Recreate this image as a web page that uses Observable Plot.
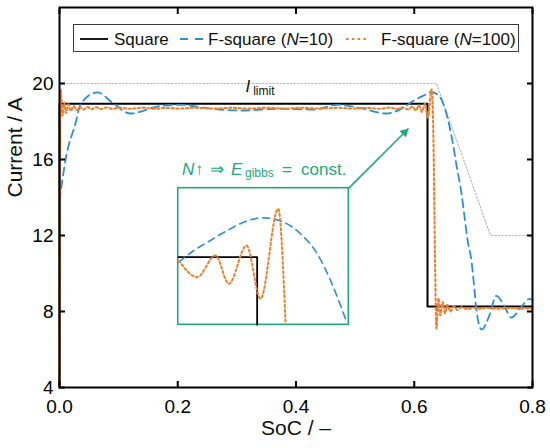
<!DOCTYPE html>
<html>
<head>
<meta charset="utf-8">
<script src="https://cdn.jsdelivr.net/npm/d3@7"></script>
<script src="https://cdn.jsdelivr.net/npm/@observablehq/plot@0.6"></script>
<style>
  html, body { margin: 0; padding: 0; background: #fff; }
  body { font-family: "Liberation Sans", Arial, sans-serif; }
  #wrap { position: relative; width: 550px; height: 448px; overflow: hidden; background: #fff; }
  #legend { position: absolute; left: 73px; top: 24px; width: 446px; height: 28px; box-sizing: border-box;
            border: 1px solid #3a3a3a; background: #fff; }
  .lg { position: absolute; top: 6px; font-size: 17px; line-height: 17px; color: #111; white-space: nowrap; }
  .ann { position: absolute; color: #22a97c; white-space: nowrap; line-height: 1; }
</style>
</head>
<body>
<div id="wrap"></div>
<script>
// ---- tick values ----
const xTicks = [0, 0.2, 0.4, 0.6, 0.8];
const yTicks = [4, 8, 12, 16, 20];

// ---- series names ----
const seriesNames = ["Square", "F-square (N=10)", "F-square (N=100)"];

// ---- Square profile (SoC, current) ----
const squareSoC = [0, 0, 0.6224, 0.6224, 0.8];
const squareI   = [4, 18.93, 18.93, 8.26, 8.26];

// ---- Current limit ----
const limitSoC = [0, 0.6376, 0.729, 0.8];
const limitI   = [20, 20, 12, 12];

// ---- F-square N=10 ----
const n10SoC = [0, 0.01, 0.027, 0.036, 0.064, 0.091, 0.12, 0.167, 0.205, 0.25, 0.306, 0.374, 0.43, 0.47, 0.51, 0.553, 0.58, 0.599, 0.616, 0.629, 0.643, 0.657, 0.665, 0.672, 0.68, 0.685, 0.69, 0.697, 0.702, 0.705, 0.714, 0.726, 0.739, 0.752, 0.764, 0.78, 0.795, 0.8];
const n10I   = [13.8, 15.95, 17.9, 18.93, 19.53, 18.95, 18.42, 18.8, 18.88, 18.7, 18.58, 18.67, 18.63, 18.88, 18.7, 18.42, 18.7, 19.1, 19.37, 19.55, 19.3, 18.1, 16.9, 15.6, 14.2, 13.0, 11.8, 10.6, 9.1, 8.1, 7.05, 7.7, 8.82, 8.3, 7.68, 8.2, 8.66, 8.6];

// ---- F-square N=100 ----
const n100SoC = [0, 0.0005, 0.002, 0.005, 0.008, 0.011, 0.015, 0.019, 0.024, 0.029, 0.034, 0.04, 0.047, 0.054, 0.062, 0.07, 0.08, 0.09, 0.1, 0.12, 0.14, 0.16, 0.18, 0.2, 0.23, 0.26, 0.29, 0.32, 0.35, 0.38, 0.41, 0.44, 0.47, 0.5, 0.52, 0.54, 0.56, 0.57, 0.58, 0.59, 0.597, 0.603, 0.608, 0.613, 0.618, 0.623, 0.6295, 0.6325, 0.635, 0.6375, 0.641, 0.644, 0.648, 0.652, 0.656, 0.661, 0.667, 0.673, 0.68, 0.69, 0.70, 0.71, 0.72, 0.74, 0.76, 0.78, 0.8];
const n100I   = [4, 10, 19.65, 18.3, 19.0, 18.45, 18.9, 18.55, 18.82, 18.6, 18.78, 18.62, 18.76, 18.64, 18.75, 18.65, 18.74, 18.66, 18.73, 18.67, 18.73, 18.67, 18.72, 18.68, 18.72, 18.68, 18.72, 18.68, 18.72, 18.68, 18.72, 18.68, 18.72, 18.68, 18.72, 18.67, 18.73, 18.66, 18.74, 18.63, 18.78, 18.58, 18.85, 18.5, 18.95, 18.2, 19.7, 17.0, 11.0, 7.1, 8.7, 7.8, 8.5, 7.9, 8.35, 8.0, 8.28, 8.08, 8.22, 8.12, 8.2, 8.14, 8.19, 8.15, 8.18, 8.15, 8.17];

// ---- Inset (zoom of the jump), drawn in chart units ----
const insetBoxSoC = [0.2008, 0.4893];
const insetBoxI   = [7.30, 14.49];
const insetSquareSoC = [0.2013, 0.3343, 0.3343];
const insetSquareI   = [10.86, 10.86, 7.30];
const insetN10SoC = [0.2018, 0.2271, 0.2554, 0.2836, 0.3117, 0.3455, 0.3794, 0.4076, 0.4359, 0.4584, 0.4837];
const insetN10I   = [10.595, 11.21, 11.74, 12.26, 12.70, 12.93, 12.70, 12.09, 11.04, 9.63, 7.62];
const insetN100SoC = [0.2018, 0.2329, 0.2638, 0.2864, 0.3163, 0.3400, 0.3699, 0.3822];
const insetN100I   = [10.68, 9.81, 10.95, 9.46, 11.47, 8.67, 13.41, 7.44];

// ---- Arrow from inset to the jump ----
const arrowSoC = [0.4893, 0.5903];
const arrowI   = [14.49, 17.63];
const arrowHeadSoC = [0.5838];
const arrowHeadI   = [17.43];

// ---- colours ----
const cBlack = "#000000", cBlue = "#2e8fd5", cOrange = "#f08030", cGreen = "#22a97c", cLimit = "#b8b8b8";

const rows = (xs, ys) => xs.map((x, i) => ({x, y: ys[i]}));

const plot = Plot.plot({
  width: 550,
  height: 448,
  marginLeft: 59,
  marginRight: 18,
  marginTop: 7,
  marginBottom: 61,
  x: {domain: [0, 0.8]},
  y: {domain: [4, 24]},
  style: {fontFamily: '"Liberation Sans", Arial, sans-serif', background: "white", color: "black", overflow: "visible"},
  marks: [
    Plot.line(rows(limitSoC, limitI), {x: "x", y: "y", stroke: cLimit, strokeWidth: 1.2, strokeDasharray: "1.5,2"}),
    Plot.line(rows(squareSoC, squareI), {x: "x", y: "y", stroke: cBlack, strokeWidth: 2}),
    Plot.line(rows(n10SoC, n10I), {x: "x", y: "y", stroke: cBlue, strokeWidth: 1.8, strokeDasharray: "8,5", curve: "monotone-x"}),
    Plot.line(rows(n100SoC, n100I), {x: "x", y: "y", stroke: cOrange, strokeWidth: 2.1, strokeDasharray: "2.2,2.6", curve: "monotone-x"}),
    // inset
    Plot.rect([{x1: insetBoxSoC[0], x2: insetBoxSoC[1], y1: insetBoxI[0], y2: insetBoxI[1]}], {x1: "x1", x2: "x2", y1: "y1", y2: "y2", stroke: cGreen, strokeWidth: 1.6, fill: "none"}),
    Plot.line(rows(insetSquareSoC, insetSquareI), {x: "x", y: "y", stroke: cBlack, strokeWidth: 1.8}),
    Plot.line(rows(insetN10SoC, insetN10I), {x: "x", y: "y", stroke: cBlue, strokeWidth: 1.6, strokeDasharray: "7,5", curve: "monotone-x"}),
    Plot.line(rows(insetN100SoC, insetN100I), {x: "x", y: "y", stroke: cOrange, strokeWidth: 2, strokeDasharray: "2.2,2.6", curve: "monotone-x"}),
    Plot.link([{x1: arrowSoC[0], y1: arrowI[0], x2: arrowSoC[1], y2: arrowI[1]}], {x1: "x1", y1: "y1", x2: "x2", y2: "y2", stroke: cGreen, strokeWidth: 1.6}),
    Plot.dot(rows(arrowHeadSoC, arrowHeadI), {x: "x", y: "y", symbol: "triangle", r: 3.5, fill: cGreen, stroke: "none", rotate: 45}),
    // I_limit label
    Plot.text(["I"], {x: 0.3146, y: 19.83, text: d => d, fontSize: 17, fontStyle: "italic", textAnchor: "start", fill: "#111"}),
    Plot.text(["limit"], {x: 0.3275, y: 19.62, text: d => d, fontSize: 12, textAnchor: "start", fill: "#111"}),
    // frame and axes
    Plot.frame({stroke: "black", strokeWidth: 2}),
    Plot.axisX({anchor: "bottom", ticks: xTicks, tickSize: -6, tickPadding: 17.5, tickFormat: d => d.toFixed(1), fontSize: 19, label: null, strokeWidth: 2}),
    Plot.axisX({anchor: "top", ticks: xTicks, tickSize: -6, tickFormat: () => "", label: null, strokeWidth: 2}),
    Plot.axisY({anchor: "left", ticks: yTicks, tickSize: -6, tickPadding: 12, tickFormat: d => String(d), fontSize: 19, label: null, strokeWidth: 2}),
    Plot.axisY({anchor: "right", ticks: yTicks, tickSize: -6, tickFormat: () => "", label: null, strokeWidth: 2}),
    Plot.text(["SoC / –"], {frameAnchor: "bottom", dy: 47, text: d => d, fontSize: 21, fill: "#111"}),
    Plot.text(["Current / A"], {frameAnchor: "left", dx: -44, rotate: -90, text: d => d, fontSize: 21, fill: "#111"})
  ]
});

const wrap = document.getElementById("wrap");
plot.style.position = "absolute";
plot.style.left = "0px";
plot.style.top = "0px";
wrap.appendChild(plot);

// ---- legend (inside the plot frame) ----
const legend = document.createElement("div");
legend.id = "legend";
const swatch = (left, w, stroke, dash, sw) => {
  const ns = "http://www.w3.org/2000/svg";
  const s = document.createElementNS(ns, "svg");
  s.setAttribute("width", w); s.setAttribute("height", 10);
  s.style.position = "absolute"; s.style.left = (left - 74) + "px"; s.style.top = "8.5px";
  const l = document.createElementNS(ns, "line");
  l.setAttribute("x1", 0); l.setAttribute("x2", w); l.setAttribute("y1", 5); l.setAttribute("y2", 5);
  l.setAttribute("stroke", stroke); l.setAttribute("stroke-width", sw);
  if (dash) l.setAttribute("stroke-dasharray", dash);
  s.appendChild(l);
  return s;
};
const label = (left, html) => {
  const d = document.createElement("div");
  d.className = "lg";
  d.style.left = (left - 74) + "px";
  d.innerHTML = html;
  return d;
};
legend.appendChild(swatch(80, 28, cBlack, null, 1.8));
legend.appendChild(label(114, seriesNames[0]));
legend.appendChild(swatch(180, 23, cBlue, "8,7", 1.8));
legend.appendChild(label(208, seriesNames[1].replace("N", "<i>N</i>")));
legend.appendChild(swatch(346, 23, cOrange, "2.6,3.2", 2.1));
legend.appendChild(label(381, seriesNames[2].replace("N", "<i>N</i>")));
wrap.appendChild(legend);

// ---- green annotation ----
const annParts = [
  {t: "N", left: 182, size: 17, italic: true, top: 160.6},
  {t: "↑", left: 195, size: 17, italic: false, top: 160.6},
  {t: "⇒", left: 210, size: 17, italic: false, top: 160.6},
  {t: "E", left: 231, size: 17, italic: true, top: 160.6},
  {t: "gibbs", left: 245, size: 12, italic: false, top: 167.3},
  {t: "=", left: 282, size: 17, italic: false, top: 160.6},
  {t: "const.", left: 301, size: 17, italic: false, top: 160.6}
];
annParts.forEach(p => {
  const s = document.createElement("span");
  s.className = "ann";
  s.textContent = p.t;
  s.style.left = p.left + "px";
  s.style.top = p.top + "px";
  s.style.fontSize = p.size + "px";
  if (p.italic) s.style.fontStyle = "italic";
  wrap.appendChild(s);
});
</script>
</body>
</html>
